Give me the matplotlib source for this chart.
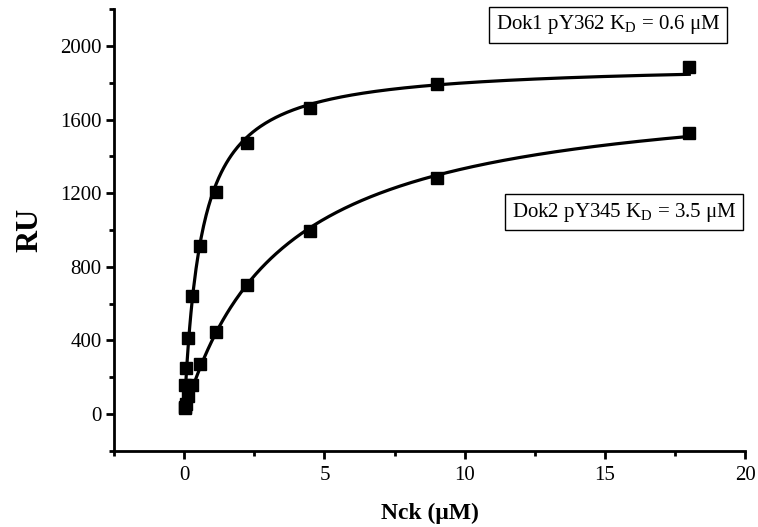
import numpy as np
import matplotlib
matplotlib.use("Agg")
import matplotlib.pyplot as plt
from matplotlib.ticker import MultipleLocator

plt.rcParams['font.family'] = ['Liberation Serif', 'DejaVu Serif']
plt.rcParams['mathtext.fontset'] = 'custom'
plt.rcParams['mathtext.rm'] = 'Liberation Serif'

# Nck concentration (uM) and response (RU)
dok1_x = [0.0175, 0.035, 0.07, 0.14, 0.28, 0.5625, 1.125, 2.25, 4.5, 9, 18]
dok1_y = [40, 158, 250, 410, 640, 915, 1205, 1475, 1665, 1795, 1885]
dok2_x = [0.035, 0.07, 0.14, 0.28, 0.5625, 1.125, 2.25, 4.5, 9, 18]
dok2_y = [30, 55, 95, 155, 270, 445, 700, 995, 1280, 1530]
kd_dok1 = 0.6
kd_dok2 = 3.5


def fit_curve(x, y, kd):
    # one-site binding, Bmax by least squares for the given KD
    x = np.array(x, float)
    y = np.array(y, float)
    f = x / (kd + x)
    bmax = (f * y).sum() / (f * f).sum()
    xs = np.linspace(x.min(), x.max(), 400)
    return xs, bmax * xs / (kd + xs)


fig = plt.figure(figsize=(7.58, 5.27), dpi=100)
ax = fig.add_axes([0.1504, 0.1448, 0.8330, 0.8376])

for xx, yy, kd in [(dok1_x, dok1_y, kd_dok1), (dok2_x, dok2_y, kd_dok2)]:
    cx, cy = fit_curve(xx, yy, kd)
    ax.plot(cx, cy, color='black', lw=2.3, zorder=2)
    ax.plot(xx, yy, 's', color='black', ms=8.5, zorder=3)

ax.set_xlim(-2.5, 20)
ax.set_ylim(-200, 2200)
ax.xaxis.set_major_locator(MultipleLocator(5))
ax.xaxis.set_minor_locator(MultipleLocator(2.5))
ax.yaxis.set_major_locator(MultipleLocator(400))
ax.yaxis.set_minor_locator(MultipleLocator(200))
ax.set_yticks(range(0, 2001, 400))

for s in ['top', 'right']:
    ax.spines[s].set_visible(False)
for s in ['left', 'bottom']:
    ax.spines[s].set_linewidth(2)

ax.tick_params(which='major', length=6, width=2, direction='out', labelsize=15)
ax.tick_params(which='minor', length=3.5, width=2, direction='out')
ax.tick_params(axis='x', pad=5)
ax.tick_params(axis='y', pad=3)

ax.set_xlabel('Nck (μM)', fontsize=17, fontweight='bold', labelpad=13)
ax.set_ylabel('RU', fontsize=22, fontweight='bold', labelpad=11)

box = dict(boxstyle='square,pad=0.3', facecolor='white', edgecolor='black', lw=1)
fig.text(608 / 758, 1 - 25 / 527, 'Dok1 pY362 K$_\\mathregular{D}$ = %.1f μM' % kd_dok1,
         ha='center', va='center', fontsize=15, bbox=box)
fig.text(624 / 758, 1 - 212 / 527, 'Dok2 pY345 K$_\\mathregular{D}$ = %.1f μM' % kd_dok2,
         ha='center', va='center', fontsize=15, bbox=box)

fig.savefig('out.png', dpi=100)
